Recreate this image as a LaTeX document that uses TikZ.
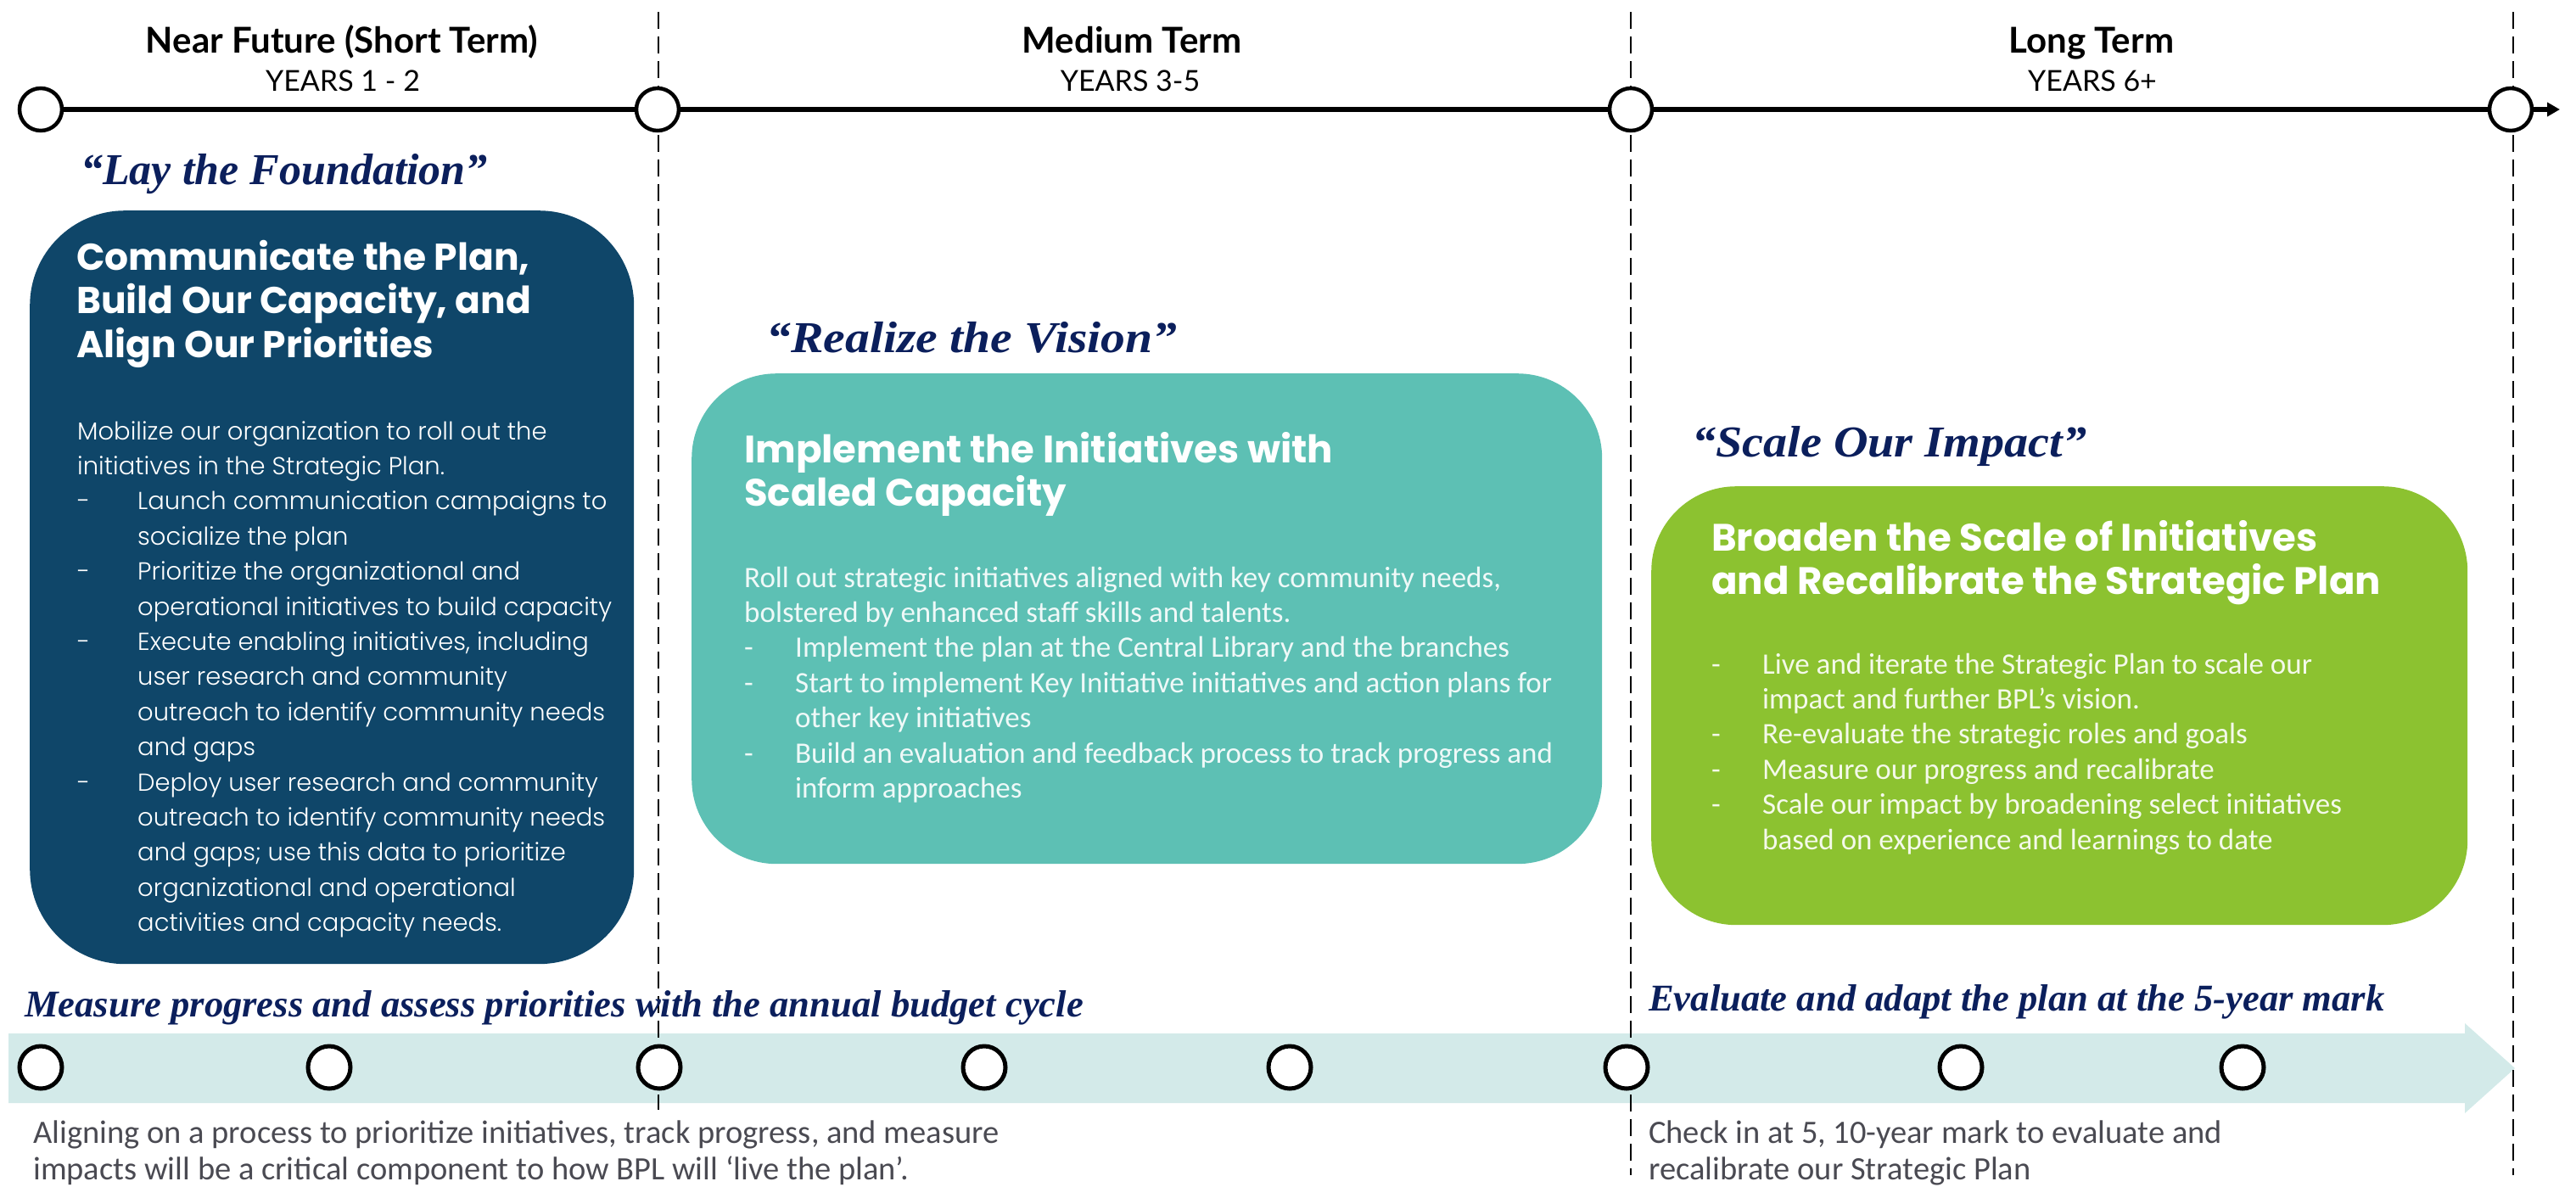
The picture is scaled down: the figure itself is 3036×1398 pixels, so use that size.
\documentclass[tikz,border=0pt]{standalone}
\usepackage{fontspec}
\usetikzlibrary{arrows.meta}

\newfontfamily\fhead{Lato}
\newfontfamily\ftitle{Poppins}
\newfontfamily\flight{Poppins Light}
\newfontfamily\fbody{Carlito}
\newfontfamily\fmotto{Liberation Serif}

\definecolor{navybox}{HTML}{0F4669}
\definecolor{tealbox}{HTML}{5DC0B4}
\definecolor{greenbox}{HTML}{8CC230}
\definecolor{mottoblue}{HTML}{0B1F5C}
\definecolor{bandfill}{HTML}{D3EAE9}
\definecolor{notegray}{HTML}{4A4A52}

% stacked text lines: plain, with a leading dash, or indented continuation
\newlength\tlindent
\newcommand\tlplain[1]{\hbox{#1}}
\newcommand\tldash[1]{\hbox{\hbox to\tlindent{-\hss}#1}}
\newcommand\tlcont[1]{\hbox{\hskip\tlindent #1}}

\tikzset{
  tcirc/.style={circle, draw=black, fill=white, line width=4.5pt, minimum size=50pt, inner sep=0pt},
  bcirc/.style={circle, draw=black, fill=white, line width=5pt, minimum size=50pt, inner sep=0pt},
  tline/.style={line width=5.5pt, draw=black},
  divider/.style={line width=2.5pt, draw=black, dash pattern=on 20pt off 9pt},
  panel/.style={inner sep=0pt, draw=none, anchor=north west},
  hdr/.style={font=\fhead\bfseries\fontsize{42}{48}\selectfont, anchor=base, inner sep=0pt},
  yrs/.style={font=\fhead\fontsize{34}{42}\selectfont, anchor=base, inner sep=0pt},
  motto/.style={font=\fmotto\bfseries\itshape\fontsize{52}{60}\selectfont, text=mottoblue, anchor=base west, inner sep=0pt},
  bandmotto/.style={font=\fmotto\bfseries\itshape\fontsize{44.6}{50}\selectfont, text=mottoblue, anchor=base west, inner sep=0pt},
  boxtitle/.style={font=\ftitle\bfseries\fontsize{44}{51.5}\selectfont, text=white, anchor=base west, inner sep=0pt},
  boxtitlesm/.style={font=\ftitle\bfseries\fontsize{45}{51}\selectfont, text=white, anchor=base west, inner sep=0pt},
  lightbody/.style={font=\flight\fontsize{29}{41.4}\selectfont, anchor=base west, inner sep=0pt},
  boxbody/.style={font=\fbody\fontsize{35}{41.4}\selectfont, anchor=base west, inner sep=0pt},
  note/.style={font=\fbody\fontsize{38.5}{43}\selectfont, text=notegray, anchor=base west, inner sep=0pt}
}

\begin{document}
\begin{tikzpicture}[x=1pt, y=-1pt]
\useasboundingbox (0,0) rectangle (3036,1398);

% ---- bottom band with arrow head ----
\fill[bandfill] (10,1218) -- (2905,1218) -- (2905,1206) -- (2964,1259)
  -- (2905,1312) -- (2905,1300) -- (10,1300) -- cycle;

% ---- phase dividers ----
\coordinate (d1top) at (776,14);   \coordinate (d1bot) at (776,1308);
\coordinate (d2top) at (1922,14);  \coordinate (d2bot) at (1922,1385);
\coordinate (d3top) at (2962,14);  \coordinate (d3bot) at (2962,1385);
\draw[divider] (d1top) -- (d1bot);
\draw[divider] (d2top) -- (d2bot);
\draw[divider] (d3top) -- (d3bot);

% ---- top timeline ----
\node[tcirc] (t1) at (48,129) {};
\node[tcirc] (t2) at (775,129) {};
\node[tcirc] (t3) at (1922,129) {};
\node[tcirc] (t4) at (2959,129) {};
\coordinate (tend) at (3017,129);
\draw[tline] (t1) -- (t2);
\draw[tline] (t2) -- (t3);
\draw[tline] (t3) -- (t4);
\draw[tline, -{Triangle[length=15pt,width=16pt]}] (t4) -- (tend);

% ---- phase headings ----
\node[hdr] (h1) at (403,62) {Near Future (Short Term)};
\node[yrs] (y1) at (404,107) {YEARS 1 - 2};
\node[hdr] (h2) at (1334,62) {Medium Term};
\node[yrs] (y2) at (1332,107) {YEARS 3-5};
\node[hdr] (h3) at (2465,62) {Long Term};
\node[yrs] (y3) at (2466,107) {YEARS 6+};

% ---- mottos ----
\node[motto] (m1) at (95,217) {“Lay the Foundation”};
\node[motto] (m2) at (903,415) {\scalebox{1.11}[1]{“Realize the Vision”}};
\node[motto] (m3) at (1994,538) {\scalebox{1.08}[1]{“Scale Our Impact”}};

% ---- phase panels ----
\node[panel, fill=navybox, rounded corners=112pt, minimum width=712pt, minimum height=888pt] (p1) at (35,248) {};
\node[panel, fill=tealbox, rounded corners=100pt, minimum width=1073pt, minimum height=578pt] (p2) at (815,440) {};
\node[panel, fill=greenbox, rounded corners=100pt, minimum width=962pt, minimum height=517pt] (p3) at (1946,573) {};

% panel 1
\node[boxtitle] (p1title) at (90,318) {\vtop{%
  \tlplain{Communicate the Plan,}
  \tlplain{Build Our Capacity, and}
  \tlplain{Align Our Priorities}}};
\node[lightbody, text=white] (p1body) at (91,518) {\tlindent=71pt\vtop{%
  \tlplain{Mobilize our organization to roll out the}
  \tlplain{initiatives in the Strategic Plan.}
  \tldash{Launch communication campaigns to}
  \tlcont{socialize the plan}
  \tldash{Prioritize the organizational and}
  \tlcont{operational initiatives to build capacity}
  \tldash{Execute enabling initiatives, including}
  \tlcont{user research and community}
  \tlcont{outreach to identify community needs}
  \tlcont{and gaps}
  \tldash{Deploy user research and community}
  \tlcont{outreach to identify community needs}
  \tlcont{and gaps; use this data to prioritize}
  \tlcont{organizational and operational}
  \tlcont{activities and capacity needs.}}};

% panel 2
\node[boxtitlesm] (p2title) at (877,545) {\vtop{%
  \tlplain{Implement the Initiatives with}
  \tlplain{Scaled Capacity}}};
\node[boxbody, text=white!90!tealbox] (p2body) at (877,692) {\tlindent=60pt\vtop{%
  \tlplain{Roll out strategic initiatives aligned with key community needs,}
  \tlplain{bolstered by enhanced staff skills and talents.}
  \tldash{Implement the plan at the Central Library and the branches}
  \tldash{Start to implement Key Initiative initiatives and action plans for}
  \tlcont{other key initiatives}
  \tldash{Build an evaluation and feedback process to track progress and}
  \tlcont{inform approaches}}};

% panel 3
\node[boxtitlesm] (p3title) at (2017,649) {\vtop{%
  \tlplain{Broaden the Scale of Initiatives}
  \tlplain{and Recalibrate the Strategic Plan}}};
\node[boxbody, text=white!90!greenbox] (p3body) at (2017,794) {\tlindent=60pt\vtop{%
  \tldash{Live and iterate the Strategic Plan to scale our}
  \tlcont{impact and further BPL’s vision.}
  \tldash{Re-evaluate the strategic roles and goals}
  \tldash{Measure our progress and recalibrate}
  \tldash{Scale our impact by broadening select initiatives}
  \tlcont{based on experience and learnings to date}}};

% ---- review cycle band ----
\node[bandmotto] (bm1) at (29,1198) {Measure progress and assess priorities with the annual budget cycle};
\node[bandmotto] (bm2) at (1943,1191) {Evaluate and adapt the plan at the 5-year mark};

\node[bcirc] (c1) at (48,1258) {};
\node[bcirc] (c2) at (388,1258) {};
\node[bcirc] (c3) at (777,1258) {};
\node[bcirc] (c4) at (1160,1258) {};
\node[bcirc] (c5) at (1520,1258) {};
\node[bcirc] (c6) at (1917,1258) {};
\node[bcirc] (c7) at (2311,1258) {};
\node[bcirc] (c8) at (2643,1258) {};

\node[note] (n1) at (39,1347) {\vtop{%
  \tlplain{Aligning on a process to prioritize initiatives, track progress, and measure}
  \tlplain{impacts will be a critical component to how BPL will ‘live the plan’.}}};
\node[note] (n2) at (1943,1347) {\vtop{%
  \tlplain{Check in at 5, 10-year mark to evaluate and}
  \tlplain{recalibrate our Strategic Plan}}};
\end{tikzpicture}
\end{document}
